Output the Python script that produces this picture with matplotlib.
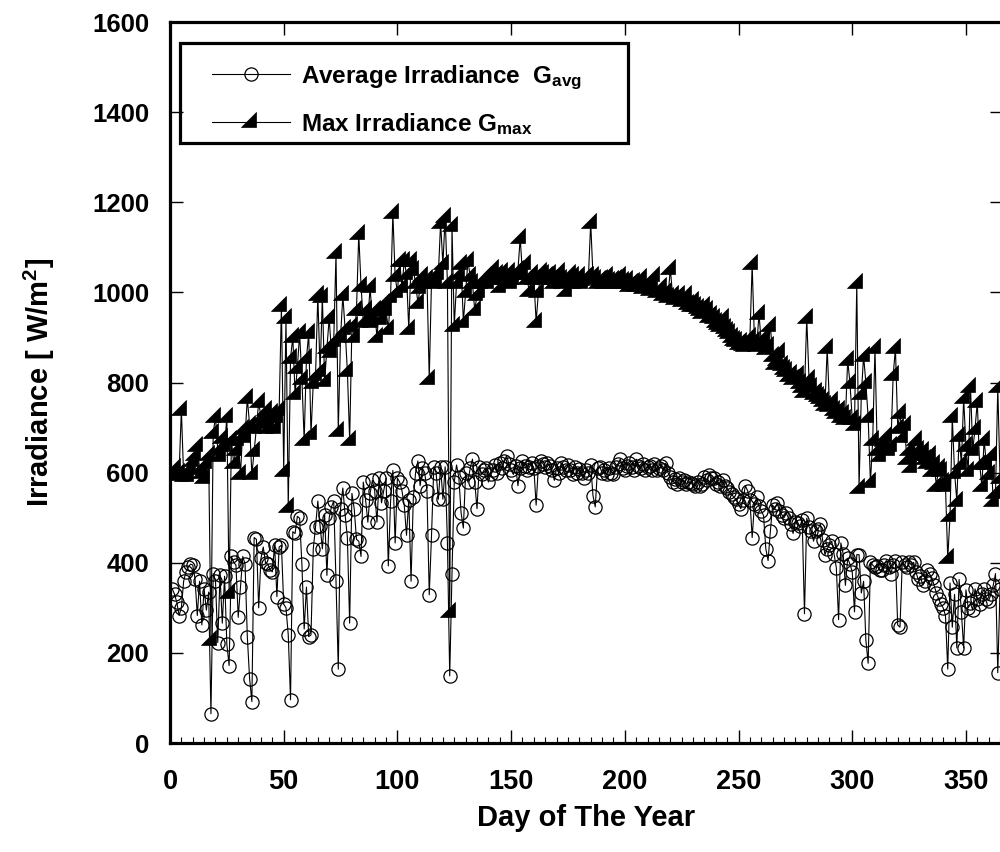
import numpy as np
import matplotlib
matplotlib.use("Agg")
import matplotlib.pyplot as plt
import matplotlib.ticker as ticker
from matplotlib.path import Path
from matplotlib.patches import Rectangle

plt.rcParams['font.family'] = ['Liberation Sans', 'DejaVu Sans']
plt.rcParams['font.weight'] = 'bold'
plt.rcParams['mathtext.fontset'] = 'custom'
plt.rcParams['mathtext.rm'] = 'Liberation Sans:bold'
plt.rcParams['mathtext.bf'] = 'Liberation Sans:bold'
plt.rcParams['mathtext.it'] = 'Liberation Sans:bold'

''' daily values read off the chart '''
days = np.arange(1, 366)

g_avg = [
    342, 330, 312, 283, 300, 359, 380, 390, 397, 395,
    365, 283, 359, 262, 342, 295, 335, 65, 376, 360,
    223, 372, 266, 370, 219, 172, 414, 401, 395, 279,
    346, 414, 397, 236, 143, 92, 456, 452, 300, 410,
    435, 400, 397, 384, 380, 439, 325, 435, 439, 308,
    300, 240, 96, 469, 465, 503, 499, 397, 253, 346,
    236, 240, 431, 480, 537, 482, 431, 507, 372, 500,
    524, 537, 359, 164, 520, 566, 507, 456, 266, 554,
    520, 452, 448, 414, 579, 540, 490, 554, 583, 560,
    490, 588, 533, 560, 588, 393, 537, 605, 444, 588,
    579, 560, 528, 461, 540, 359, 545, 600, 626, 571,
    610, 600, 560, 329, 461, 613, 600, 541, 613, 541,
    613, 444, 149, 376, 579, 617, 590, 511, 477, 600,
    579, 610, 630, 579, 520, 613, 596, 605, 610, 579,
    596, 605, 617, 600, 621, 610, 625, 638, 620, 605,
    596, 615, 571, 610, 626, 615, 605, 612, 621, 610,
    528, 615, 626, 620, 612, 621, 615, 605, 583, 610,
    600, 621, 612, 605, 617, 605, 596, 612, 600, 609,
    600, 588, 605, 600, 617, 549, 524, 610, 613, 600,
    605, 596, 610, 600, 596, 612, 620, 630, 610, 605,
    615, 621, 612, 605, 630, 615, 610, 620, 606, 613,
    615, 605, 620, 605, 610, 615, 605, 621, 600, 590,
    579, 585, 575, 588, 580, 583, 575, 579, 578, 575,
    570, 580, 571, 575, 590, 583, 595, 588, 588, 575,
    580, 571, 583, 570, 565, 558, 552, 545, 541, 530,
    520, 540, 571, 560, 540, 456, 530, 545, 525, 515,
    505, 431, 405, 470, 528, 520, 533, 515, 507, 500,
    510, 499, 485, 465, 490, 488, 482, 495, 287, 499,
    480, 470, 448, 470, 475, 486, 450, 418, 431, 440,
    448, 420, 389, 274, 444, 420, 350, 410, 397, 380,
    291, 418, 418, 333, 359, 228, 177, 401, 395, 390,
    393, 385, 384, 395, 405, 390, 376, 395, 405, 262,
    257, 401, 395, 390, 401, 395, 401, 380, 363, 370,
    350, 360, 384, 375, 367, 350, 333, 320, 308, 300,
    283, 164, 355, 257, 330, 211, 363, 291, 211, 340,
    300, 310, 295, 342, 320, 308, 330, 342, 320, 316,
    330, 350, 376, 156, 342]

g_max = [
    600, 610, 595, 600, 740, 592, 600, 592, 610, 626,
    640, 660, 609, 600, 588, 621, 640, 229, 689, 723,
    650, 638, 677, 660, 723, 333, 672, 621, 650, 672,
    596, 698, 680, 765, 706, 596, 647, 700, 757, 723,
    710, 740, 700, 723, 732, 700, 723, 740, 969, 604,
    943, 524, 854, 901, 774, 833, 909, 808, 672, 854,
    909, 685, 799, 816, 994, 825, 990, 804, 876, 943,
    867, 893, 1087, 693, 901, 994, 918, 825, 672, 926,
    900, 960, 1130, 1015, 935, 960, 940, 1011, 935, 960,
    901, 960, 940, 977, 960, 918, 990, 1176, 1036, 1000,
    1070, 1011, 1070, 1040, 918, 1070, 1050, 1020, 977, 1010,
    1036, 1020, 1030, 808, 1028, 1036, 1020, 1040, 1155, 1062,
    1168, 1020, 291, 1147, 926, 1020, 1040, 1062, 935, 1000,
    1070, 1036, 1020, 960, 994, 1000, 1020, 1030, 1036, 1020,
    1040, 1053, 1030, 1040, 1011, 1045, 1030, 1036, 1045, 1020,
    1030, 1040, 1050, 1121, 1040, 1062, 1030, 1003, 1040, 1030,
    935, 1000, 1045, 1040, 1030, 1036, 1040, 1030, 1020, 1035,
    1045, 1030, 1020, 1003, 1030, 1040, 1036, 1020, 1030, 1036,
    1020, 1028, 1035, 1036, 1155, 1036, 1030, 1020, 1028, 1030,
    1020, 1036, 1025, 1020, 1028, 1030, 1020, 1036, 1025, 1020,
    1028, 1015, 1020, 1024, 1015, 1020, 1032, 1010, 1015, 1020,
    1005, 1010, 1036, 1000, 1005, 1011, 995, 1000, 990, 1053,
    994, 985, 990, 994, 980, 985, 994, 975, 970, 980,
    969, 965, 960, 955, 970, 960, 945, 950, 943, 935,
    930, 926, 943, 920, 915, 909, 900, 895, 893, 885,
    890, 884, 880, 890, 900, 1062, 893, 880, 952, 890,
    901, 875, 880, 926, 860, 842, 850, 867, 840, 830,
    825, 815, 820, 808, 810, 816, 800, 790, 780, 943,
    808, 790, 774, 780, 770, 765, 760, 750, 876, 748,
    760, 740, 732, 740, 723, 730, 720, 850, 799, 720,
    706, 1020, 566, 774, 859, 799, 723, 579, 672, 876,
    650, 638, 655, 670, 681, 650, 660, 816, 876, 700,
    732, 680, 706, 630, 650, 613, 640, 672, 650, 640,
    647, 630, 621, 640, 604, 620, 571, 610, 604, 580,
    571, 410, 503, 723, 600, 537, 681, 620, 765, 660,
    604, 791, 650, 698, 757, 620, 571, 672, 620, 596,
    640, 537, 554, 790, 588]

''' right-angled triangle marker, centred on its centroid '''
tri = Path([(-4/3, -2/3), (2/3, -2/3), (2/3, 4/3), (-4/3, -2/3)],
           [Path.MOVETO, Path.LINETO, Path.LINETO, Path.CLOSEPOLY])

fig = plt.figure(figsize=(10, 8.52), dpi=100)
fig.set_facecolor('w')
ax = fig.add_axes([0.170, 0.1279, 0.833, 0.8462])

ax.plot(days, g_avg, '-k', lw=0.8, marker='o', ms=9.5, mfc='none',
        mec='k', mew=0.9, label=r'Average Irradiance  G$_{avg}$')
ax.plot(days, g_max, '-k', lw=0.8, marker=tri, ms=14, mfc='k',
        mec='k', mew=0.5, label=r'Max Irradiance G$_{max}$')

ax.set_xlim(0, 366.3)
ax.set_ylim(0, 1600)
ax.xaxis.set_major_locator(ticker.MultipleLocator(50))
ax.xaxis.set_minor_locator(ticker.MultipleLocator(5))
ax.yaxis.set_major_locator(ticker.MultipleLocator(200))

for s in ax.spines.values():
    s.set_linewidth(2.3)

ax.tick_params(axis='both', which='major', direction='in', length=9.5,
               width=1.0, top=True, right=True)
ax.tick_params(axis='x', which='minor', direction='in', length=4,
               width=0.8, top=False, bottom=True)
ax.tick_params(axis='x', which='major', labelsize=19.5, pad=19)
ax.tick_params(axis='y', which='major', labelsize=18.5, pad=15)

ax.set_xlabel('Day of The Year', fontsize=21, fontweight='bold', labelpad=6)
ax.set_ylabel(r'Irradiance [ W/m$^2$]', fontsize=21, fontweight='bold',
              labelpad=25)

''' legend without its own frame, box drawn separately '''
leg = ax.legend(loc='upper left', bbox_to_anchor=(0.0504, 0.943),
                borderaxespad=0, fontsize=17.5, handlelength=3.2,
                handletextpad=0.45, labelspacing=0.8, borderpad=0,
                frameon=False)
for t in leg.get_texts():
    t.set_fontweight('bold')
ax.add_patch(Rectangle((0.012, 0.832), 0.538, 0.1387, transform=ax.transAxes,
                       fill=False, edgecolor='k', lw=2.3, zorder=5))

plt.savefig('out.png', dpi=100)
